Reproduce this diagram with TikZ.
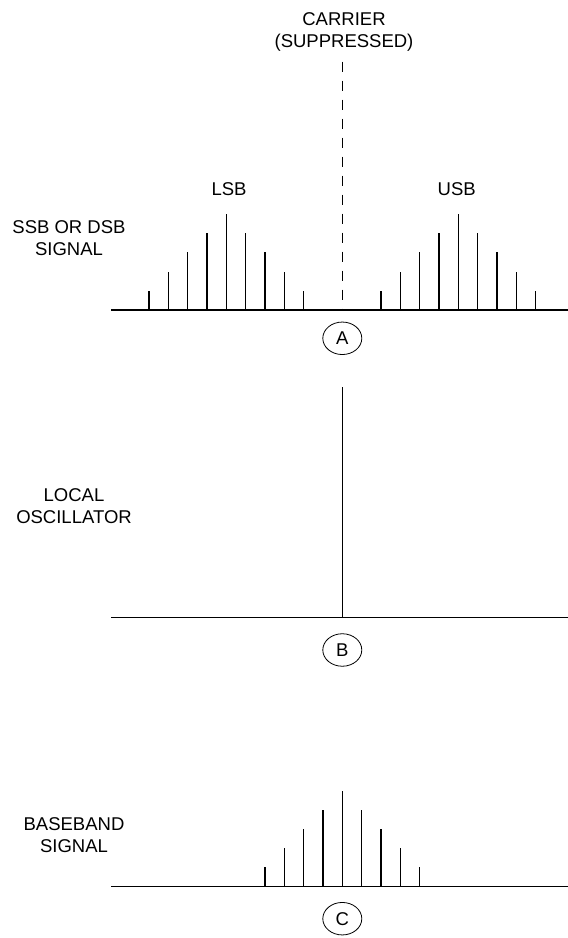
\documentclass[tikz,border=0pt]{standalone}
\usepackage{fontspec}
\setmainfont{Liberation Sans}
\usetikzlibrary{shapes.geometric}

\begin{document}
\begin{tikzpicture}[
  x=1pt,y=1pt,
  every node/.style={font=\fontsize{18.5}{22}\selectfont},
  axisline/.style={draw=black,line width=1.3pt},
  specline/.style={draw=black,line width=1.3pt},
  carrierline/.style={draw=black,line width=1.3pt,dash pattern=on 10.5pt off 8.5pt},
  panelmark/.style={ellipse,draw=black,line width=0.8pt,minimum width=39pt,
    minimum height=32.5pt,inner sep=0pt},
  sigtext/.style={align=center}
]
\useasboundingbox (0,0) rectangle (568,938);

% A: SSB or DSB signal
\begin{scope}[shift={(342.3,628)}]
  \draw[axisline] (-231.3,0) -- (225.7,0);
  \foreach \n in {2,...,10} {
    \pgfmathsetmacro\h{19.2*(5-abs(\n-6))}
    \draw[specline] (-19.33*\n,0) -- ++(0,\h);
    \draw[specline] (19.33*\n,0) -- ++(0,\h);
  }
  \draw[carrierline] (0,248.3) -- (0,0);

  \node[sigtext] (carrier) at (1.7,278.5) {CARRIER\\(SUPPRESSED)};
  \node (lsb) at (-113.3,121.1) {LSB};
  \node (usb) at (114.4,121.1) {USB};
  \node[sigtext] (ssb) at (-273.3,72.2) {SSB OR DSB\\SIGNAL};
  \node[panelmark] (markA) at (0,-28.3) {A};
\end{scope}

% B: local oscillator
\begin{scope}[shift={(342.3,320.6)}]
  \draw[axisline] (-231.3,0) -- (225.7,0);
  \draw[specline] (0,0) -- (0,230);

  \node[sigtext] (lo) at (-268.3,110.9) {LOCAL\\OSCILLATOR};
  \node[panelmark] (markB) at (0,-32.6) {B};
\end{scope}

% C: baseband signal
\begin{scope}[shift={(342.3,51.3)}]
  \draw[axisline] (-231.3,0) -- (225.7,0);
  \foreach \n in {-4,...,4} {
    \pgfmathsetmacro\h{19.2*(5-abs(\n))}
    \draw[specline] (19.33*\n,0) -- ++(0,\h);
  }

  \node[sigtext] (bb) at (-268.3,52) {BASEBAND\\SIGNAL};
  \node[panelmark] (markC) at (0,-32) {C};
\end{scope}

\end{tikzpicture}
\end{document}
